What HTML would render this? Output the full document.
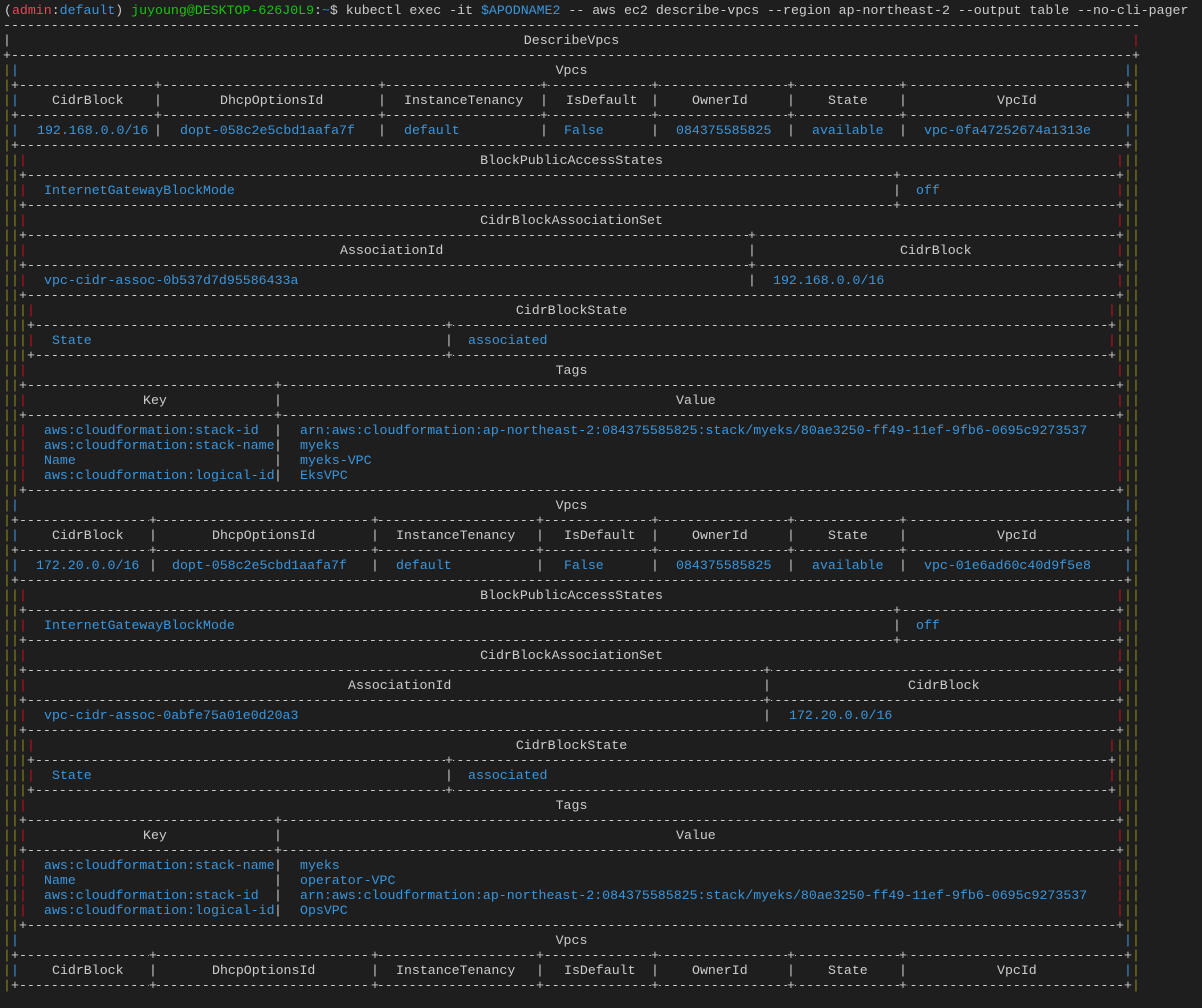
<!DOCTYPE html>
<html><head><meta charset="utf-8">
<style>
html,body{margin:0;padding:0;background:#1e1e1e;}
#term{position:relative;width:1202px;height:1008px;overflow:hidden;background:#1e1e1e;font-family:"Liberation Mono",monospace;font-size:13.25px;line-height:15px;color:#cccccc;}
#term span{position:absolute;white-space:pre;height:15px;}
</style></head>
<body>
<div id="term"></div>
<script>
const CW = 7.949;
const C_TXT = "#cccccc", C_VAL = "#3a96dd", C_OLIVE = "#8d8a1a", C_RED = "#c50f1f";
const term = document.getElementById('term');

const vpcHeaders = ["CidrBlock","DhcpOptionsId","InstanceTenancy","IsDefault","OwnerId","State","VpcId"];
const headerX1 = [52,220,404,566,692,828,997];
const headerX2 = [52,212,396,564,692,828,997];
const pipes1 = [158,382,544,655,791,903];
const pipes2 = [153,375,540,655,791,903];
const vpc1Values = ["192.168.0.0/16","dopt-058c2e5cbd1aafa7f","default","False","084375585825","available","vpc-0fa47252674a1313e"];
const vpc1X = [37,180,404,564,676,812,924];
const vpc2Values = ["172.20.0.0/16","dopt-058c2e5cbd1aafa7f","default","False","084375585825","available","vpc-01e6ad60c40d9f5e8"];
const vpc2X = [36,172,396,564,676,812,924];
const tags1Keys = ["aws:cloudformation:stack-id","aws:cloudformation:stack-name","Name","aws:cloudformation:logical-id"];
const tags1Vals = ["arn:aws:cloudformation:ap-northeast-2:084375585825:stack/myeks/80ae3250-ff49-11ef-9fb6-0695c9273537","myeks","myeks-VPC","EksVPC"];
const tags2Keys = ["aws:cloudformation:stack-name","Name","aws:cloudformation:stack-id","aws:cloudformation:logical-id"];
const tags2Vals = ["myeks","operator-VPC","arn:aws:cloudformation:ap-northeast-2:084375585825:stack/myeks/80ae3250-ff49-11ef-9fb6-0695c9273537","OpsVPC"];

function put(x, k, text, color, name) {
  const s = document.createElement('span');
  s.style.left = x + 'px';
  s.style.top = (3 + 15 * k) + 'px';
  s.style.color = color;
  s.textContent = text;
  
  
  term.appendChild(s);
  return s;
}
function pipe(xc, k, color) { put(xc - 4, k, '|', color, 'table-border'); }
function L(d) { return 7 + 8 * d; }
function R(d) { return 1136 - 8 * d; }
function ancestors(k, d) { for (let i = 0; i < d; i++) { pipe(L(i), k, C_OLIVE); pipe(R(i), k, C_OLIVE); } }
function ownColor(d) { return d === 0 ? C_TXT : (d === 1 ? C_VAL : C_RED); }
function dashes(k, xa, xb, plus) {
  const n = Math.round((xb - xa) / CW) + 1;
  put(xa - 4, k, '-'.repeat(n), C_TXT, 'table-separator');
  plus.forEach(px => {
    const s = put(px - 4, k, '+', C_TXT, 'table-junction');
    s.style.background = '#1e1e1e';
    s.style.width = '8px';
  });
}
function sepRow(k, d, inner) { ancestors(k, d); dashes(k, L(d), R(d), [L(d)].concat(inner, [R(d)])); }
function title(k, d, text) {
  ancestors(k, d);
  const lc = d === 0 ? C_TXT : (d === 1 ? C_VAL : C_RED);
  const rc = d === 1 ? C_VAL : C_RED;
  pipe(L(d), k, lc); pipe(R(d), k, rc);
  put(571.5 - text.length * CW / 2, k, text, C_TXT, 'table-title');
}
function row(k, d, inner, items, color) {
  ancestors(k, d);
  pipe(L(d), k, ownColor(d)); pipe(R(d), k, ownColor(d));
  inner.forEach(p => pipe(p, k, C_TXT));
  items.forEach(it => put(it[0], k, it[1], color, 'table-cell'));
}

const prompt = [["(",C_TXT],["admin","#e74856"],[":",C_TXT],["default",C_VAL],[") ",C_TXT],["juyoung@DESKTOP-626J0L9","#16c60c"],[":",C_TXT],["~","#3b78ff"],["$ kubectl exec -it ",C_TXT],["$APODNAME2",C_VAL],[" -- aws ec2 describe-vpcs ",C_TXT],["--region",C_TXT],[" ap-northeast-2 ",C_TXT],["--output",C_TXT],[" table ",C_TXT],["--no-cli-pager",C_TXT]];
let px = 4;
prompt.forEach(p => { put(px, 0, p[0], p[1], 'command-prompt'); px += p[0].length * CW; });

dashes(1, 7, 1136, []);
title(2, 0, "DescribeVpcs");
sepRow(3, 0, []);

function vpc(k0, pipes, hx, vals, vx, cbMid, hdrAssoc, hdrCidr, assocId, cidr, cidrX, tk, tv, partial) {
  title(k0, 1, "Vpcs");
  sepRow(k0 + 1, 1, pipes);
  row(k0 + 2, 1, pipes, vpcHeaders.map((h, i) => [hx[i], h]), C_TXT);
  sepRow(k0 + 3, 1, pipes);
  if (partial) return;
  row(k0 + 4, 1, pipes, vals.map((v, i) => [vx[i], v]), C_VAL);
  sepRow(k0 + 5, 1, []);
  title(k0 + 6, 2, "BlockPublicAccessStates");
  sepRow(k0 + 7, 2, [897]);
  row(k0 + 8, 2, [897], [[44, "InternetGatewayBlockMode"], [916, "off"]], C_VAL);
  sepRow(k0 + 9, 2, [897]);
  title(k0 + 10, 2, "CidrBlockAssociationSet");
  sepRow(k0 + 11, 2, [cbMid]);
  row(k0 + 12, 2, [cbMid], [[hdrAssoc, "AssociationId"], [hdrCidr, "CidrBlock"]], C_TXT);
  sepRow(k0 + 13, 2, [cbMid]);
  row(k0 + 14, 2, [cbMid], [[44, assocId], [cidrX, cidr]], C_VAL);
  sepRow(k0 + 15, 2, []);
  title(k0 + 16, 3, "CidrBlockState");
  sepRow(k0 + 17, 3, [449]);
  row(k0 + 18, 3, [449], [[52, "State"], [468, "associated"]], C_VAL);
  sepRow(k0 + 19, 3, [449]);
  title(k0 + 20, 2, "Tags");
  sepRow(k0 + 21, 2, [278]);
  row(k0 + 22, 2, [278], [[143, "Key"], [676, "Value"]], C_TXT);
  sepRow(k0 + 23, 2, [278]);
  for (let i = 0; i < tk.length; i++) row(k0 + 24 + i, 2, [278], [[44, tk[i]], [300, tv[i]]], C_VAL);
  sepRow(k0 + 28, 2, []);
}
vpc(4, pipes1, headerX1, vpc1Values, vpc1X, 752, 340, 900, "vpc-cidr-assoc-0b537d7d95586433a", "192.168.0.0/16", 773, tags1Keys, tags1Vals, false);
vpc(33, pipes2, headerX2, vpc2Values, vpc2X, 767, 348, 908, "vpc-cidr-assoc-0abfe75a01e0d20a3", "172.20.0.0/16", 789, tags2Keys, tags2Vals, false);
vpc(62, pipes2, headerX2, [], [], 0, 0, 0, "", "", 0, [], [], true);
</script>
</body></html>
